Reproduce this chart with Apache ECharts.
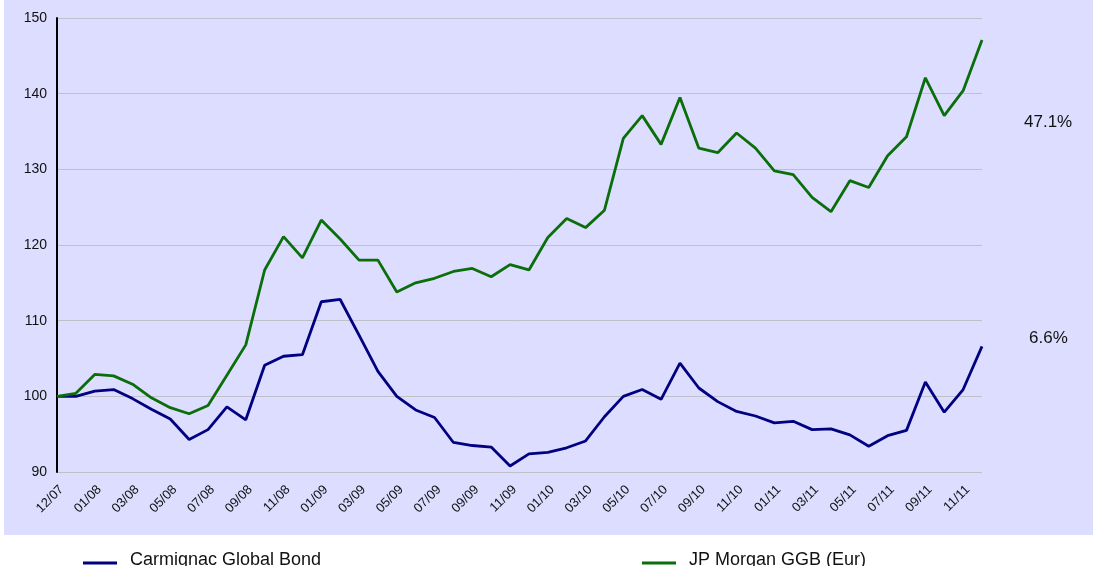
<!DOCTYPE html>
<html>
<head>
<meta charset="utf-8">
<script src="https://cdn.jsdelivr.net/npm/echarts@6/dist/echarts.min.js"></script>
<style>html,body{margin:0;padding:0;background:#fff}#c{width:1093px;height:566px}</style>
</head>
<body>
<div id="c"></div>
<script>
var categories = ["12/07","12/07",
 "01/08","02/08","03/08","04/08","05/08","06/08","07/08","08/08","09/08","10/08","11/08","12/08",
 "01/09","02/09","03/09","04/09","05/09","06/09","07/09","08/09","09/09","10/09","11/09","12/09",
 "01/10","02/10","03/10","04/10","05/10","06/10","07/10","08/10","09/10","10/10","11/10","12/10",
 "01/11","02/11","03/11","04/11","05/11","06/11","07/11","08/11","09/11","10/11","11/11","12/11"];
var carmignac = [100,100.0,100.7,100.9,99.7,98.3,97.0,94.3,95.6,98.6,96.9,104.1,105.3,105.5,112.5,112.8,108.1,103.3,100.0,98.2,97.2,93.9,93.5,93.3,90.8,92.4,92.6,93.2,94.1,97.3,100.0,100.9,99.6,104.4,101.1,99.3,98.0,97.4,96.5,96.7,95.6,95.7,94.9,93.4,94.8,95.5,101.9,97.9,100.9,106.6];
var jpm = [100,100.4,102.9,102.7,101.6,99.8,98.5,97.7,98.8,102.8,106.8,116.7,121.1,118.3,123.3,120.8,118.0,118.0,113.8,115.0,115.6,116.5,116.9,115.8,117.4,116.7,121.0,123.5,122.3,124.6,134.1,137.1,133.3,139.5,132.8,132.2,134.8,132.8,129.8,129.3,126.3,124.4,128.5,127.6,131.8,134.3,142.1,137.1,140.4,147.1];
var seriesNames = ["Carmignac Global Bond","JP Morgan GGB (Eur)"];
var yTicks = [90,100,110,120,130,140,150];

function perf(arr){ return ((arr[arr.length-1]-arr[0])/arr[0]*100).toFixed(1) + "%"; }

var chart = echarts.init(document.getElementById('c'), null, {renderer:'canvas'});
var FONT = '"Liberation Sans", Arial, sans-serif';
var legendIcon = 'path://M0,0 L0,0 M42,13 L42,13 M0,8 L34,8 L34,11 L0,11 Z';
chart.setOption({
  animation: false,
  backgroundColor: '#ffffff',
  graphic: [
    {type:'rect', z:-100, shape:{x:4,y:0,width:1089,height:535}, style:{fill:'#DDDDFF'}},
    {type:'text', left:1024, top:114, style:{text: perf(jpm), font:'17px ' + FONT, fill:'#111'}},
    {type:'text', left:1029, top:330, style:{text: perf(carmignac), font:'17px ' + FONT, fill:'#111'}}
  ],
  grid: {left:57, right:111, top:18, bottom:94, containLabel:false},
  legend: [
    {data:[seriesNames[0]], left:78, top:546, icon:legendIcon, itemWidth:42, itemHeight:13,
     textStyle:{fontSize:18, fontFamily:FONT, color:'#111'}},
    {data:[seriesNames[1]], left:637, top:546, icon:legendIcon, itemWidth:42, itemHeight:13,
     textStyle:{fontSize:18, fontFamily:FONT, color:'#111'}}
  ],
  xAxis: {
    type:'category', data:categories, boundaryGap:false,
    axisLine:{show:false}, axisTick:{show:false},
    axisLabel:{interval:1, rotate:45, fontSize:13, fontFamily:FONT, color:'#111', margin:11, verticalAlign:'top'}
  },
  yAxis: {
    type:'value', min:yTicks[0], max:yTicks[yTicks.length-1], interval:10,
    axisLine:{show:true, lineStyle:{color:'#000', width:2}},
    axisTick:{show:false},
    axisLabel:{fontSize:14, fontFamily:FONT, color:'#111', margin:10},
    splitLine:{lineStyle:{color:'#C0C0C8', width:1}}
  },
  series: [
    {name:seriesNames[0], type:'line', data:carmignac, symbol:'none', color:'#000080',
     lineStyle:{width:2.8, color:'#000080'}, z:3},
    {name:seriesNames[1], type:'line', data:jpm, symbol:'none', color:'#0A6E0A',
     lineStyle:{width:2.8, color:'#0A6E0A'}, z:3}
  ]
});
</script>
</body>
</html>
